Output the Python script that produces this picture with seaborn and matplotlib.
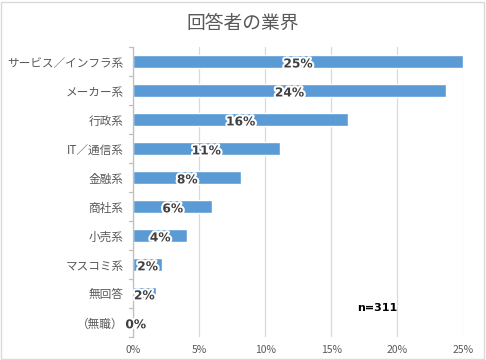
import matplotlib
matplotlib.use("Agg")
import matplotlib.pyplot as plt
import matplotlib.patheffects as pe
from matplotlib.patches import Rectangle
from matplotlib.ticker import PercentFormatter, MultipleLocator
import seaborn as sns
import pandas as pd

# data (percent of respondents)
industries = ["サービス／インフラ系", "メーカー系", "行政系", "IT／通信系", "金融系",
              "商社系", "小売系", "マスコミ系", "無回答", "（無職）"]
shares = [25.0, 23.7, 16.3, 11.1, 8.2, 6.0, 4.1, 2.2, 1.7, 0.0]
share_labels = ["25%", "24%", "16%", "11%", "8%", "6%", "4%", "2%", "2%", "0%"]
n_total = 311

df = pd.DataFrame({"industry": industries, "share": shares})

sns.set_theme(style="white")
plt.rcParams["font.family"] = ["Noto Sans CJK JP", "DejaVu Sans"]

fig = plt.figure(figsize=(4.86, 3.6), dpi=100)
ax = fig.add_axes([0.274, 0.064, 0.679, 0.805])

sns.barplot(data=df, x="share", y="industry", color="#5B9BD5", width=0.46,
            saturation=1, ax=ax)

ax.set_xlim(0, 25)
ax.set_ylim(9.5, -0.5)
ax.xaxis.set_major_locator(MultipleLocator(5))
ax.xaxis.set_major_formatter(PercentFormatter(decimals=0))
ax.grid(axis="x", color="#D9D9D9", linewidth=0.9)
ax.set_axisbelow(True)
ax.set_xlabel("")
ax.set_ylabel("")

for side in ["top", "right", "bottom"]:
    ax.spines[side].set_visible(False)
ax.spines["left"].set_color("#BFBFBF")
ax.spines["left"].set_linewidth(0.9)

ax.tick_params(axis="x", length=0, labelsize=7.5, labelcolor="#595959", pad=6)
ax.tick_params(axis="y", length=0, labelsize=8.4, labelcolor="#595959", pad=7)

# small tick marks between categories
for b in range(11):
    ax.plot([-0.35, 0], [b - 0.5, b - 0.5], color="#BFBFBF", lw=0.9,
            clip_on=False)

# value labels at bar centres
for i, (v, lab) in enumerate(zip(shares, share_labels)):
    x = v / 2 if v > 0 else 0.2
    ax.text(x, i + 0.08, lab, ha="center", va="center", fontsize=8.8,
            fontweight="bold", color="#404040", family="DejaVu Sans",
            path_effects=[pe.withStroke(linewidth=3, foreground="white")])

ax.text(18.5, 8.5, f"n={n_total}", ha="center", va="center", fontsize=8,
        fontweight="bold", color="black", family="DejaVu Sans")

fig.suptitle("回答者の業界", y=0.965, fontsize=13.5, color="#595959")

fig.patches.append(Rectangle((0.003, 0.004), 0.992, 0.99, transform=fig.transFigure,
                             fill=False, edgecolor="#D9D9D9", linewidth=1))

fig.savefig("out.png", dpi=100)
